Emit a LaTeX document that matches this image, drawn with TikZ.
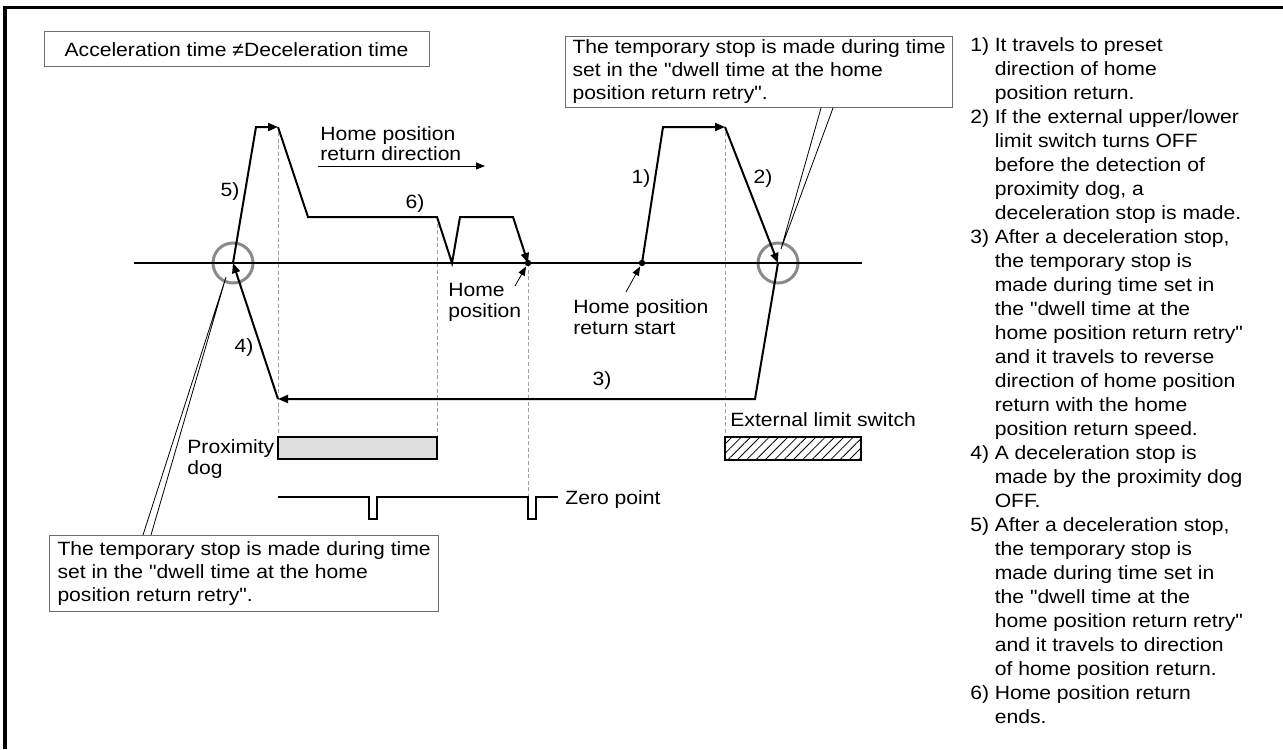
\documentclass[tikz,border=0pt]{standalone}
\usepackage{fontspec}
\setmainfont{Liberation Sans}[FakeStretch=1.1, Ligatures=TeXOff]
\usetikzlibrary{arrows.meta,patterns.meta}
\definecolor{frame}{HTML}{6E6E6E}
\definecolor{ringgray}{HTML}{8A8A8A}
\definecolor{dogfill}{HTML}{DFDFDF}
\tikzset{
  callout/.style={draw=frame, line width=0.5pt, align=left, anchor=north west,
    inner xsep=3.5pt, inner ysep=1pt, font=\fontsize{9.6}{11.5}\selectfont},
  tag/.style={inner sep=0pt, align=left, font=\fontsize{9.6}{10.5}\selectfont},
  notes/.style={inner sep=0pt, anchor=north west, font=\fontsize{9.6}{12}\selectfont},
  trace/.style={line width=1pt, line join=miter},
  run/.style={trace, -{Triangle[length=5pt,width=4pt]}},
  guide/.style={draw=gray!75, line width=0.5pt, dash pattern=on 2pt off 1.3pt},
  ring/.style={draw=ringgray, line width=1.5pt},
  leader/.style={line width=0.4pt},
  pointer/.style={leader, -{Triangle[length=4.5pt,width=3.5pt]}},
}

\begin{document}
\begin{tikzpicture}[x=0.5pt, y=-0.5pt]
  \useasboundingbox (0,0) rectangle (1283,749);
  \draw[line width=1.7pt] (5,749) |- (1283,7.3);

  % boxes at the top and bottom
  \node[callout, anchor=center, align=center, minimum width=192.5pt, minimum height=17.5pt]
    (ratio) at (236.5,49.5) {Acceleration time ≠Deceleration time};
  \node[callout, minimum height=35.5pt] (dwellR) at (565,36)
    {The temporary stop is made during time\\set in the "dwell time at the home\\position return retry".};
  \node[callout, inner xsep=4pt, minimum height=38pt] (dwellL) at (49,535)
    {The temporary stop is made during time\\set in the "dwell time at the home\\position return retry".};

  % points of the travel
  \coordinate (start) at (642,263);
  \coordinate (up1) at (663,127);
  \coordinate (top1) at (725,127);
  \coordinate (limit) at (778,263);
  \coordinate (back1) at (755,399);
  \coordinate (back2) at (278,399);
  \coordinate (dogoff) at (233,263);
  \coordinate (up5) at (256,127);
  \coordinate (top5) at (278,127);
  \coordinate (fall) at (308,217);
  \coordinate (dogend) at (437,217);
  \coordinate (dip) at (452,263);
  \coordinate (rise) at (460,217);
  \coordinate (creep) at (513,217);
  \coordinate (home) at (528,263);

  % guides
  \draw[guide] (278,132) -- (278,437);
  \draw[guide] (dogend) -- (437,437);
  \draw[guide] (home) -- (528,497);
  \draw[guide] (725,132) -- (725,437);

  \draw[ring] (limit) circle[radius=10pt];
  \draw[ring] (dogoff) circle[radius=10pt];
  \draw[line width=0.8pt] (134,263) -- (862,263);

  \draw[run] (start) -- (up1) -- (top1);
  \draw[run] (top1) -- (limit);
  \draw[run] (limit) -- (back1) -- (back2);
  \draw[run] (back2) -- (dogoff);
  \draw[run] (dogoff) -- (up5) -- (top5);
  \draw[run] (top5) -- (fall) -- (dogend) -- (dip) -- (rise) -- (creep) -- (home);
  \fill (home) circle[radius=1.6pt];
  \fill (start) circle[radius=1.6pt];

  \node[tag] at (230,192) {5)};
  \node[tag] at (415,204) {6)};
  \node[tag] at (641,179) {1)};
  \node[tag] at (763,179) {2)};
  \node[tag] at (602,381) {3)};
  \node[tag] at (244,348) {4)};

  % labels
  \node[tag, anchor=north west, font=\fontsize{9.6}{8.4}\selectfont] (dir) at (320,126)
    {Home position\\return direction};
  \coordinate (dirL) at (318,166);
  \coordinate (dirR) at (485,166);
  \draw[pointer] (dirL) -- (dirR);
  \node[tag, anchor=north west] (homeTag) at (448,283) {Home\\position};
  \coordinate (homeT) at (515,286);
  \draw[pointer, shorten >=2pt] (homeT) -- (home);
  \node[tag, anchor=north west] (startTag) at (573,299) {Home position\\return start};
  \coordinate (startT) at (626,292);
  \draw[pointer, shorten >=2pt] (startT) -- (start);

  % proximity dog and limit switch
  \draw[line width=0.8pt, fill=dogfill] (278,437) rectangle (437,459);
  \node[tag, anchor=north west] (dog) at (187,439) {Proximity\\dog};
  \draw[line width=0.8pt, pattern={Lines[angle=45,distance=3.3pt,line width=0.4pt]}]
    (725,437) rectangle (861,460);
  \node[tag, anchor=base west] (lsw) at (730,426) {External limit switch};

  % zero point signal
  \draw[line width=0.8pt] (278,497) -- ++(91,0) -- ++(0,22) -- ++(8,0) -- ++(0,-22)
    -- (528,497) -- ++(0,22) -- ++(8,0) -- ++(0,-22) -- ++(22,0);
  \node[tag, anchor=base west] (zero) at (565,504) {Zero point};

  % callout wedges
  \coordinate (wedgeR) at (781,249);
  \draw[leader] ([xshift=128pt]dwellR.south west) -- (wedgeR) -- ([xshift=134pt]dwellR.south west);
  \coordinate (wedgeL) at (226,277);
  \draw[leader] ([xshift=47pt]dwellL.north west) -- (wedgeL) -- ([xshift=51pt]dwellL.north west);

  % steps
  \node[notes] (steps) at (970,34) {%
    \begin{tabular}{@{}l@{\hspace{2.8pt}}l@{}}
    1) & It travels to preset\\
       & direction of home\\
       & position return.\\
    2) & If the external upper/lower\\
       & limit switch turns OFF\\
       & before the detection of\\
       & proximity dog, a\\
       & deceleration stop is made.\\
    3) & After a deceleration stop,\\
       & the temporary stop is\\
       & made during time set in\\
       & the "dwell time at the\\
       & home position return retry"\\
       & and it travels to reverse\\
       & direction of home position\\
       & return with the home\\
       & position return speed.\\
    4) & A deceleration stop is\\
       & made by the proximity dog\\
       & OFF.\\
    5) & After a deceleration stop,\\
       & the temporary stop is\\
       & made during time set in\\
       & the "dwell time at the\\
       & home position return retry"\\
       & and it travels to direction\\
       & of home position return.\\
    6) & Home position return\\
       & ends.
    \end{tabular}};
\end{tikzpicture}
\end{document}
